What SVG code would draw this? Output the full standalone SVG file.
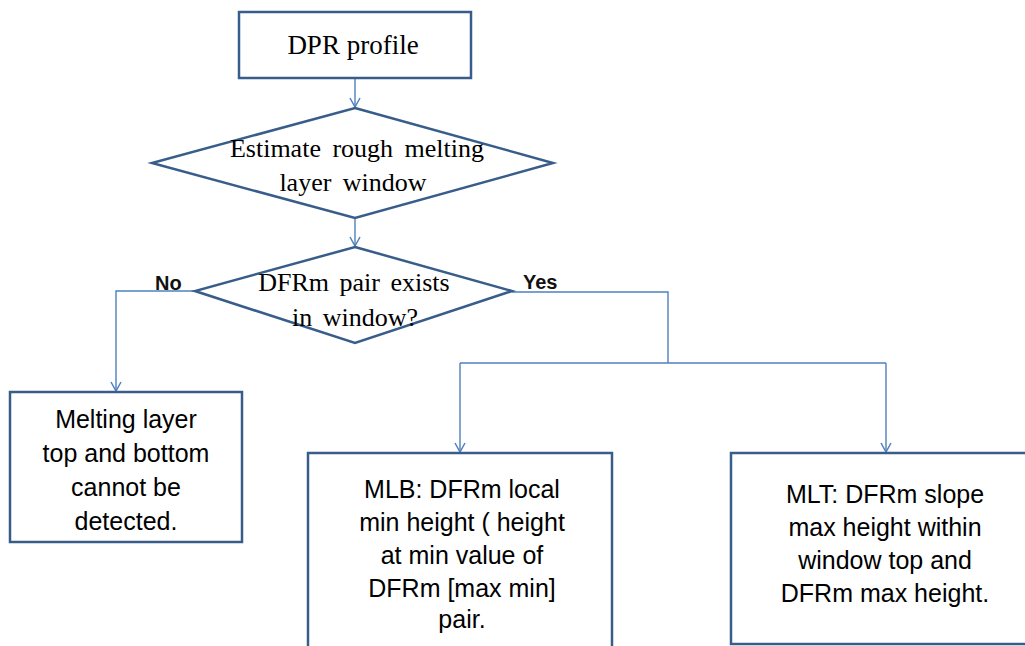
<svg xmlns="http://www.w3.org/2000/svg" width="1025" height="646" viewBox="0 0 1025 646">
<defs>
<marker id="arr" viewBox="0 0 12 12" refX="11" refY="6" markerWidth="12" markerHeight="12" markerUnits="userSpaceOnUse" orient="auto">
<path d="M2,1 L11,6 L2,11" fill="none" stroke="#4F81BD" stroke-width="1.5"/>
</marker>
<style>
.box{fill:#fff;stroke:#385D8A;stroke-width:2.5}
.dia{fill:#fff;stroke:#385D8A;stroke-width:2.5}
.con{fill:none;stroke:#4F81BD;stroke-width:1.4}
.serif{font-family:"Liberation Serif","Times New Roman",serif;fill:#000;text-anchor:middle}
.sans{font-family:"Liberation Sans",Arial,sans-serif;font-size:25px;fill:#000;text-anchor:middle}
.lbl{font-family:"Liberation Sans",Arial,sans-serif;font-size:20px;fill:#111;font-weight:bold}
</style>
</defs>
<rect width="1025" height="646" fill="#fff"/>
<g id="connectors">
<path class="con" d="M355,78 L355,107" marker-end="url(#arr)"/>
<path class="con" d="M355,218 L355,246" marker-end="url(#arr)"/>
<path class="con" d="M195,291 L116,291 L116,391" marker-end="url(#arr)"/>
<path class="con" d="M512,292 L668,292 L668,363"/>
<path class="con" d="M460,363 L886,363"/>
<path class="con" d="M460,363 L460,452" marker-end="url(#arr)"/>
<path class="con" d="M886,363 L886,452" marker-end="url(#arr)"/>
<text class="lbl" x="155" y="290">No</text>
<text class="lbl" x="523" y="289">Yes</text>
</g>
<g id="dpr">
<rect class="box" x="239" y="12" width="232" height="66"/>
<text class="serif" x="353" y="54" font-size="27">DPR profile</text>
</g>
<g id="estimate">
<polygon class="dia" points="355,108 553,163 355,218 152,163"/>
<text class="serif" x="357" y="157" font-size="26" word-spacing="5">Estimate rough melting</text>
<text class="serif" x="353" y="191" font-size="26" word-spacing="5">layer window</text>
</g>
<g id="decision">
<polygon class="dia" points="355,247 512,291 355,343 195,291"/>
<text class="serif" x="354" y="291" font-size="26" word-spacing="4">DFRm pair exists</text>
<text class="serif" x="355" y="326" font-size="26" word-spacing="4">in window?</text>
</g>
<g id="nodetect">
<rect class="box" x="10" y="392" width="232" height="150"/>
<text class="sans" x="126" y="428">Melting layer</text>
<text class="sans" x="126" y="462">top and bottom</text>
<text class="sans" x="126" y="496">cannot be</text>
<text class="sans" x="126" y="530">detected.</text>
</g>
<g id="mlb">
<rect class="box" x="308" y="453" width="304" height="200"/>
<text class="sans" x="462" y="498">MLB: DFRm local</text>
<text class="sans" x="462" y="531">min height ( height</text>
<text class="sans" x="462" y="564">at min value of</text>
<text class="sans" x="462" y="597">DFRm [max min]</text>
<text class="sans" x="462" y="628">pair.</text>
</g>
<g id="mlt">
<rect class="box" x="731" y="453" width="300" height="191"/>
<text class="sans" x="885" y="503">MLT: DFRm slope</text>
<text class="sans" x="885" y="536">max height within</text>
<text class="sans" x="885" y="569">window top and</text>
<text class="sans" x="885" y="602">DFRm max height.</text>
</g>
</svg>
